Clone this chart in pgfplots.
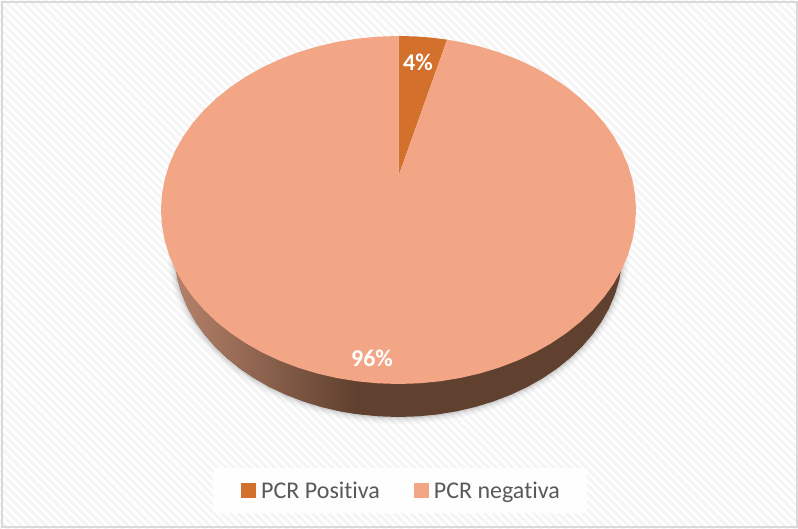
\documentclass[border=0pt]{standalone}
\usepackage{pgfplots}
\pgfplotsset{compat=1.18}
\usepackage{pgfplotstable}
\usepackage{fontspec}
\setmainfont{Carlito}[RawFeature={-liga}]
\usetikzlibrary{patterns.meta}
\definecolor{posc}{HTML}{D2702C}
\definecolor{negc}{HTML}{F3A686}
\definecolor{wallL}{HTML}{B5826A}
\definecolor{wallD}{HTML}{60402F}
\definecolor{frameC}{HTML}{D9D9D9}
\definecolor{stripe}{HTML}{F5F5F5}
\definecolor{legtext}{HTML}{595959}

% Outline of the PCR-positive sector (4 %), on a unit disc
\pgfplotstableread{
sx cy
0 0.195
0 1
0.0698 0.9976
0.1392 0.9903
0.2045 0.9789
}\posSector

% Outline of the PCR-negative sector (96 %), on a unit disc
\pgfplotstableread{
sx cy
0 0.195
0.2045 0.9789
0.2588 0.9659
0.3420 0.9397
0.4226 0.9063
0.5000 0.8660
0.5736 0.8192
0.6428 0.7660
0.7071 0.7071
0.7660 0.6428
0.8192 0.5736
0.8660 0.5000
0.9063 0.4226
0.9397 0.3420
0.9659 0.2588
0.9848 0.1736
0.9962 0.0872
1 0
0.9962 -0.0872
0.9848 -0.1736
0.9659 -0.2588
0.9397 -0.3420
0.9063 -0.4226
0.8660 -0.5000
0.8192 -0.5736
0.7660 -0.6428
0.7071 -0.7071
0.6428 -0.7660
0.5736 -0.8192
0.5000 -0.8660
0.4226 -0.9063
0.3420 -0.9397
0.2588 -0.9659
0.1736 -0.9848
0.0872 -0.9962
0 -1
-0.0872 -0.9962
-0.1736 -0.9848
-0.2588 -0.9659
-0.3420 -0.9397
-0.4226 -0.9063
-0.5000 -0.8660
-0.5736 -0.8192
-0.6428 -0.7660
-0.7071 -0.7071
-0.7660 -0.6428
-0.8192 -0.5736
-0.8660 -0.5000
-0.9063 -0.4226
-0.9397 -0.3420
-0.9659 -0.2588
-0.9848 -0.1736
-0.9962 -0.0872
-1 0
-0.9962 0.0872
-0.9848 0.1736
-0.9659 0.2588
-0.9397 0.3420
-0.9063 0.4226
-0.8660 0.5000
-0.8192 0.5736
-0.7660 0.6428
-0.7071 0.7071
-0.6428 0.7660
-0.5736 0.8192
-0.5000 0.8660
-0.4226 0.9063
-0.3420 0.9397
-0.2588 0.9659
-0.1736 0.9848
-0.0872 0.9962
0 1
}\negSector

% Lower half of the base rim
\pgfplotstableread{
sx cy
-1 0
-0.9962 -0.0872
-0.9848 -0.1736
-0.9659 -0.2588
-0.9397 -0.3420
-0.9063 -0.4226
-0.8660 -0.5000
-0.8192 -0.5736
-0.7660 -0.6428
-0.7071 -0.7071
-0.6428 -0.7660
-0.5736 -0.8192
-0.5000 -0.8660
-0.4226 -0.9063
-0.3420 -0.9397
-0.2588 -0.9659
-0.1736 -0.9848
-0.0872 -0.9962
0 -1
0.0872 -0.9962
0.1736 -0.9848
0.2588 -0.9659
0.3420 -0.9397
0.4226 -0.9063
0.5000 -0.8660
0.5736 -0.8192
0.6428 -0.7660
0.7071 -0.7071
0.7660 -0.6428
0.8192 -0.5736
0.8660 -0.5000
0.9063 -0.4226
0.9397 -0.3420
0.9659 -0.2588
0.9848 -0.1736
0.9962 -0.0872
1 0
}\baseRim

% Left part of the rim, carrying the light-to-dark gradient
\pgfplotstableread{
sx cy
-1 0
-0.9962 -0.0872
-0.9848 -0.1736
-0.9659 -0.2588
-0.9397 -0.3420
-0.9063 -0.4226
-0.8660 -0.5000
-0.8192 -0.5736
-0.7660 -0.6428
-0.7071 -0.7071
-0.6428 -0.7660
-0.5736 -0.8192
-0.5000 -0.8660
-0.4226 -0.9063
-0.3420 -0.9397
-0.2588 -0.9659
-0.187 -0.9824
-0.187 0
}\rimLeft

\pgfplotsset{
  table/disc/.style={x expr=398.5+237.5*\thisrow{sx}, y expr=319+174*\thisrow{cy}},
  table/rim/.style={x expr=398.5+224*\thisrow{sx}, y expr=277+165*\thisrow{cy}},
}

\begin{document}
\begin{tikzpicture}
\begin{axis}[
  scale only axis, width=798pt, height=529pt,
  xmin=0, xmax=798, ymin=0, ymax=529,
  hide axis, clip=true,
  legend columns=2,
  legend style={at={(axis cs:401.5,38)}, anchor=center, draw=none, fill=none,
    font=\fontsize{24}{26}\selectfont\color{legtext},
    /tikz/every even column/.append style={column sep=32pt},
    inner sep=0pt},
  legend cell align=left,
  legend image code/.code={\fill[#1] (0pt,-7.5pt) rectangle (15pt,7.5pt);},
]
% page background: faint diagonal weave inside a grey frame
\fill[white] (axis cs:0,0) rectangle (axis cs:798,529);
\fill[pattern={Lines[angle=-45,distance=5.8pt,line width=2.9pt]}, pattern color=stripe]
  (axis cs:0,0) rectangle (axis cs:798,529);
\draw[frameC, line width=2pt] (axis cs:2,2) rectangle (axis cs:796.5,526.5);
% legend panel
\fill[white, fill opacity=0.85] (axis cs:213,16) rectangle (axis cs:587,61);

% soft shadow under the base
\addplot[forget plot, draw=black, opacity=0.025, line width=14pt, no marks] table[rim] {\baseRim};
\addplot[forget plot, draw=black, opacity=0.035, line width=10pt, no marks] table[rim] {\baseRim};
\addplot[forget plot, draw=black, opacity=0.05, line width=6pt, no marks] table[rim] {\baseRim};
\addplot[forget plot, draw=black, opacity=0.07, line width=3pt, no marks] table[rim] {\baseRim};

% side wall of the disc
\addplot[forget plot, fill=wallD, draw=none, no marks] table[rim] {\baseRim};
\addplot[forget plot, left color=wallL, right color=wallD, draw=none, no marks] table[rim] {\rimLeft};

% top face
\addplot[fill=posc, draw=none, no marks] table[disc] {\posSector};
\addlegendentry{\hspace{3pt}PCR Positiva}
\addplot[fill=negc, draw=none, no marks] table[disc] {\negSector};
\addlegendentry{\hspace{3pt}PCR negativa}

\node[text=white, font=\fontsize{24}{26}\selectfont\bfseries] at (axis cs:418,467) {4\%};
\node[text=white, font=\fontsize{24}{26}\selectfont\bfseries] at (axis cs:372,171) {96\%};
\end{axis}
\end{tikzpicture}
\end{document}
